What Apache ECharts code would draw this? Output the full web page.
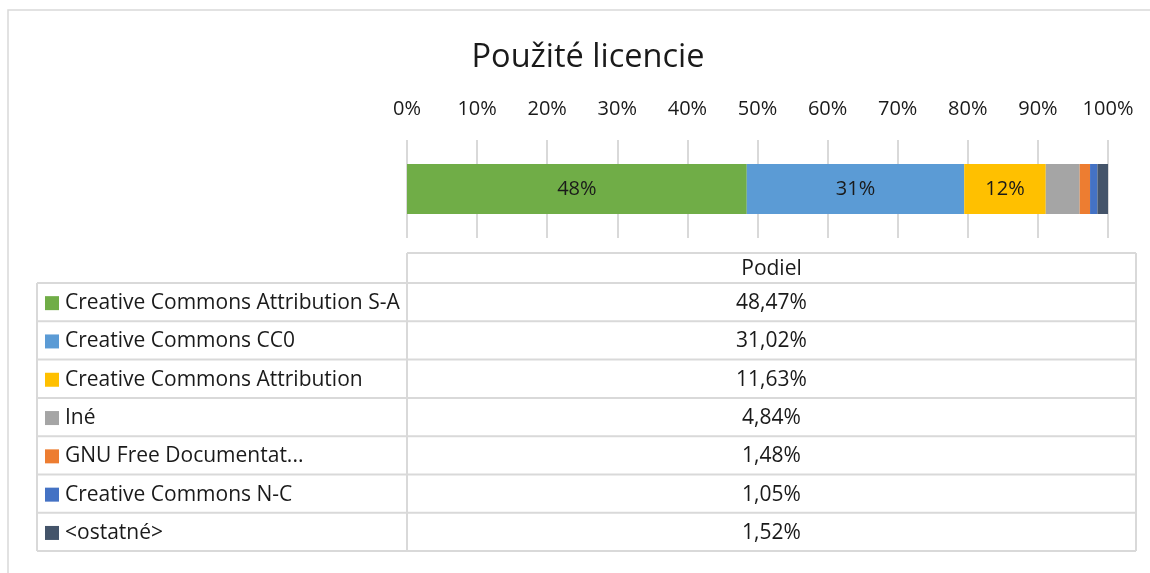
<!DOCTYPE html>
<html>
<head>
<meta charset="utf-8">
<script src="https://cdn.jsdelivr.net/npm/echarts@6/dist/echarts.min.js"></script>
<style>
html, body { margin: 0; padding: 0; background: #fff; }
#chart { width: 1150px; height: 573px; }
</style>
</head>
<body>
<div id="chart"></div>
<script>
// data
const licenses = [
    'Creative Commons Attribution S-A',
    'Creative Commons CC0',
    'Creative Commons Attribution',
    'Iné',
    'GNU Free Documentat...',
    'Creative Commons N-C',
    '<ostatné>'
]
const shares = [48.47, 31.02, 11.63, 4.84, 1.48, 1.05, 1.52]
const colors = ['#70AD47', '#5B9BD5', '#FFC000', '#A5A5A5', '#ED7D31', '#4472C4', '#44546A']
const tickLabels = ['0%', '10%', '20%', '30%', '40%', '50%', '60%', '70%', '80%', '90%', '100%']
const columnTitle = 'Podiel'

const FONT = '"Open Sans", sans-serif'
const TXT = '#1a1a1a'
const BORDER = '#d9d9d9'

// table layout
const tbl = { left: 37, split: 407, right: 1136, headTop: 253, top: 283, rowH: 38.3 }

let chart = echarts.init(document.getElementById('chart'))

//表格
let buildTable = () => {
    let els = []
    let bottom = tbl.top + tbl.rowH * licenses.length
    let line = (x1, y1, x2, y2) => ({
        type: 'line', silent: true,
        shape: { x1, y1, x2, y2 },
        style: { stroke: BORDER, lineWidth: 2 }
    })
    // header cell
    els.push(line(tbl.split, tbl.headTop, tbl.right, tbl.headTop))
    els.push(line(tbl.right, tbl.headTop, tbl.right, bottom))
    els.push(line(tbl.split, tbl.headTop, tbl.split, bottom))
    els.push(line(tbl.left, tbl.top, tbl.left, bottom))
    els.push({
        type: 'text', silent: true,
        style: {
            text: columnTitle, x: (tbl.split + tbl.right) / 2, y: (tbl.headTop + tbl.top) / 2 + 1,
            align: 'center', verticalAlign: 'middle', font: '21px ' + FONT, fill: TXT
        }
    })
    for (let i = 0; i <= licenses.length; i++) {
        let y = tbl.top + tbl.rowH * i
        els.push(line(tbl.left, y, tbl.right, y))
    }
    licenses.forEach((name, i) => {
        let cy = tbl.top + tbl.rowH * (i + 0.5) + 1
        els.push({
            type: 'rect', silent: true,
            shape: { x: 45, y: cy - 7, width: 14, height: 14 },
            style: { fill: colors[i] }
        })
        els.push({
            type: 'text', silent: true,
            style: {
                text: name, x: 65, y: cy,
                align: 'left', verticalAlign: 'middle', font: '21px ' + FONT, fill: TXT
            }
        })
        els.push({
            type: 'text', silent: true,
            style: {
                text: shares[i].toFixed(2).replace('.', ',') + '%',
                x: (tbl.split + tbl.right) / 2, y: cy,
                align: 'center', verticalAlign: 'middle', font: '21px ' + FONT, fill: TXT
            }
        })
    })
    // outer chart area border
    els.push({
        type: 'rect', silent: true, z: -1,
        shape: { x: 8, y: 10, width: 1200, height: 620 },
        style: { fill: 'none', stroke: BORDER, lineWidth: 1.5 }
    })
    return els
}

let option = {
    backgroundColor: '#fff',
    animation: false,
    title: {
        text: 'Použité licencie',
        left: 583,
        textAlign: 'center',
        top: 36,
        textStyle: { fontFamily: FONT, fontSize: 32.5, fontWeight: 'normal', color: TXT }
    },
    grid: { left: 407, right: 42, top: 140, height: 98, containLabel: false },
    xAxis: {
        type: 'value',
        position: 'top',
        min: 0,
        max: 100,
        interval: 10,
        axisLine: { show: false },
        axisTick: { show: false },
        axisLabel: {
            margin: 21,
            fontFamily: FONT,
            fontSize: 20,
            color: TXT,
            formatter: (v) => tickLabels[Math.round(v / 10)]
        },
        splitLine: { show: true, lineStyle: { color: BORDER, width: 2 } }
    },
    yAxis: {
        type: 'category',
        data: [columnTitle],
        show: false
    },
    series: licenses.map((name, i) => ({
        name: name,
        type: 'bar',
        stack: 'total',
        barWidth: 50,
        data: [shares[i]],
        itemStyle: { color: colors[i] },
        label: {
            show: shares[i] > 10,
            position: 'inside',
            fontFamily: FONT,
            fontSize: 20,
            color: TXT,
            formatter: (p) => Math.round(p.value) + '%'
        }
    })),
    graphic: buildTable()
}

chart.setOption(option)
</script>
</body>
</html>
